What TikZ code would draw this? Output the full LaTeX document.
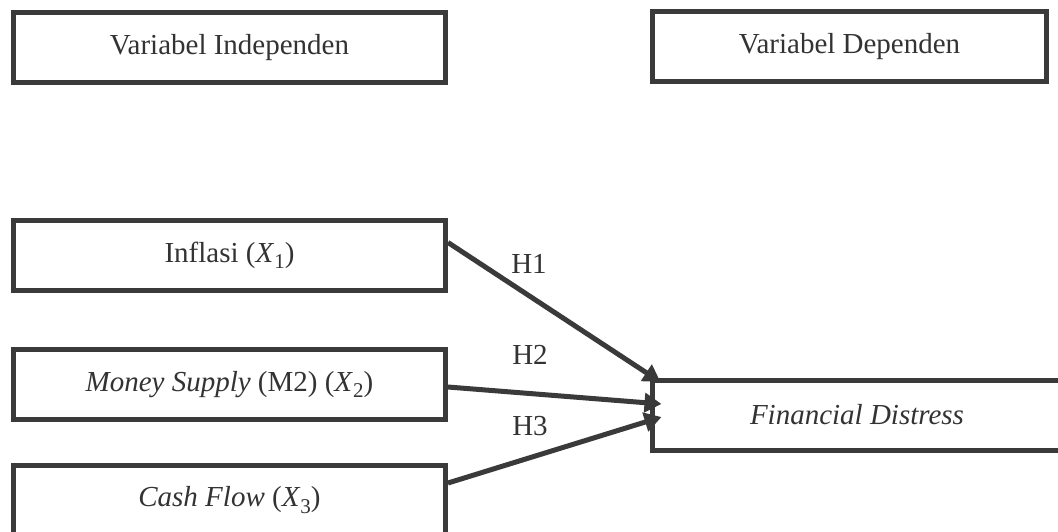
\RequirePackage{fix-cm}
\documentclass[tikz,border=0pt]{standalone}
\usepackage{fontspec}
\setmainfont{Liberation Serif}
\usetikzlibrary{arrows.meta}
\definecolor{ink}{HTML}{3A3A3A}
\definecolor{txt}{HTML}{333333}
\newcommand{\xvar}[1]{{\itshape X}\kern1pt\raisebox{-0.22em}{\fontsize{21}{21}\selectfont #1}}
\tikzset{
  varbox/.style={draw=ink, line width=5pt, rectangle, inner sep=0pt,
    minimum height=70pt, text=txt, font=\fontsize{29}{34}\selectfont},
  link/.style={draw=ink, line width=5pt, -{Triangle[length=17pt,width=19pt]}},
  hlabel/.style={text=txt, font=\fontsize{29}{34}\selectfont, inner sep=0pt}
}
\begin{document}
\begin{tikzpicture}[x=1pt,y=-1pt]
\useasboundingbox (0,0) rectangle (1058,531);
\clip (0,0) rectangle (1058,531);
\fill[white] (0,0) rectangle (1058,531);
\node[varbox, minimum width=432pt] (indep) at (229.5,47.5) {Variabel Independen};
\node[varbox, minimum width=394pt] (dep) at (849.5,46.5) {Variabel Dependen};
\node[varbox, minimum width=432pt] (x1) at (229.5,255.5) {Inflasi (\xvar{1})};
\node[varbox, minimum width=432pt] (x2) at (229.5,384.5) {\textit{Money Supply} (M2) (\xvar{2})};
\node[varbox, minimum width=432pt] (x3) at (229.5,500) {\textit{Cash Flow} (\xvar{3})};
\node[varbox, minimum width=410pt] (fd) at (857,415) {\textit{Financial Distress}};
\draw[link] ([yshift=13pt]x1.east) -- ([xshift=11pt,yshift=33pt]fd.west);
\draw[link] ([yshift=-2.5pt]x2.east) -- ([xshift=12pt,yshift=11pt]fd.west);
\draw[link] ([yshift=17pt]x3.east) -- ([xshift=12pt,yshift=-2pt]fd.west);
\node[hlabel] (h1) at (529,264) {H1};
\node[hlabel] (h2) at (530,355) {H2};
\node[hlabel] (h3) at (530,426) {H3};
\end{tikzpicture}
\end{document}
